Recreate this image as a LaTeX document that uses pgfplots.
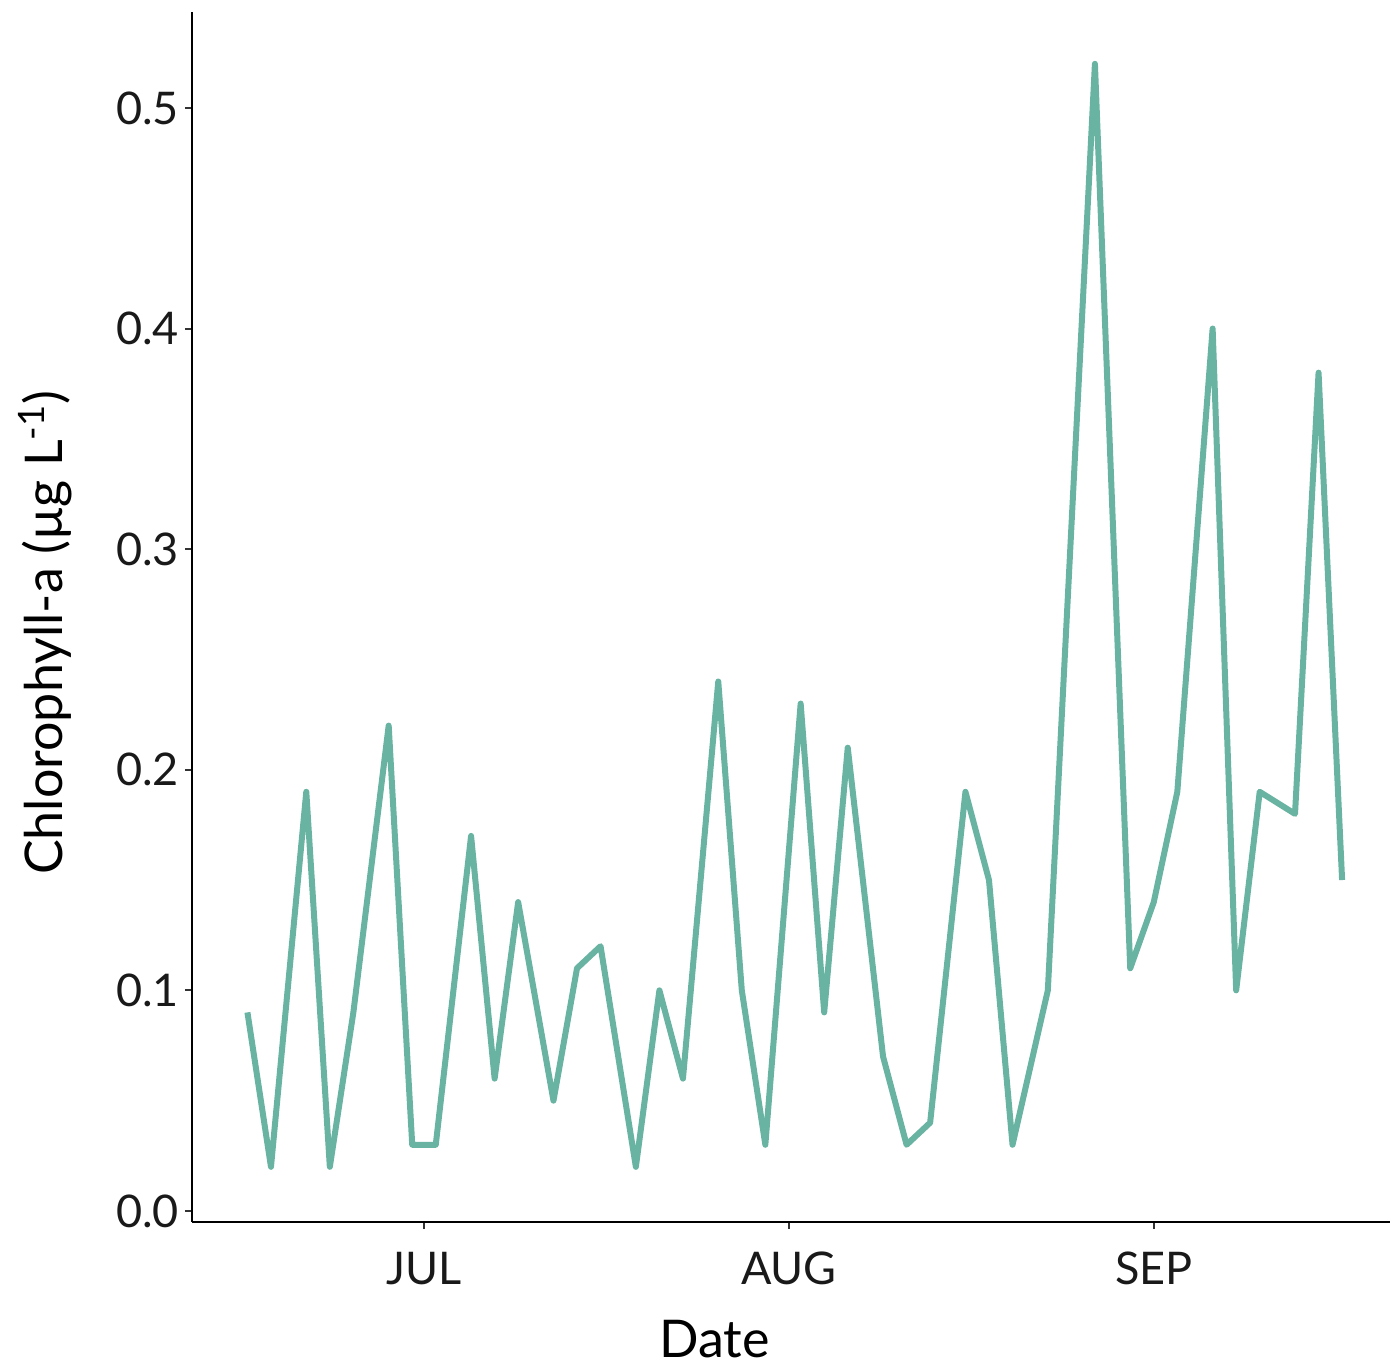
\documentclass[border=0pt]{standalone}
\usepackage{pgfplots}
\pgfplotsset{compat=1.18}
\usepackage{fontspec}
\setmainfont{Lato}
\definecolor{chl}{HTML}{69B3A2}
\pgfplotstableread{
day val
-15 0.09
-13 0.02
-10 0.19
-8 0.02
-6 0.09
-3 0.22
-1 0.03
1 0.03
4 0.17
6 0.06
8 0.14
11 0.05
13 0.11
15 0.12
18 0.02
20 0.10
22 0.06
25 0.24
27 0.10
29 0.03
32 0.23
34 0.09
36 0.21
39 0.07
41 0.03
43 0.04
46 0.19
48 0.15
50 0.03
53 0.10
57 0.52
60 0.11
62 0.14
64 0.19
67 0.40
69 0.10
71 0.19
74 0.18
76 0.38
78 0.15
}\chldata
\begin{document}
\begin{tikzpicture}
\begin{axis}[
  name=ax,
  scale only axis, width=599pt, height=605pt,
  xmin=-19.71, xmax=82.07, ymin=-0.005, ymax=0.5435,
  axis x line*=bottom, axis y line*=left,
  axis line style={black, line width=1pt},
  xtick={0,31,62}, xticklabels={JUL,AUG,SEP},
  ytick={0,0.1,0.2,0.3,0.4,0.5},
  yticklabels={0.0,0.1,0.2,0.3,0.4,0.5},
  tick align=outside, major tick length=3.5pt,
  tick style={black!80, line width=1pt},
  ticklabel style={font=\fontsize{22.5}{26}\selectfont, text=black!90},
  xticklabel style={yshift=-8pt},
  yticklabel style={xshift=0.5pt},
  xlabel={Date}, ylabel={Chlorophyll-a (µg L\textsuperscript{-1})},
  label style={font=\fontsize{26}{30}\selectfont, text=black},
  xlabel style={at={(axis description cs:0.436,-0.1116)}, anchor=base},
  ylabel style={at={(axis description cs:-0.1227,0.487)}, anchor=center, rotate=0},
  clip=false,
]
\addplot[chl, line width=3pt, line join=round, no markers] table[x=day,y=val]{\chldata};
\end{axis}
\pgfresetboundingbox
\path ([shift={(-96pt,-73.5pt)}]ax.south west) rectangle ([shift={(0pt,6pt)}]ax.north east);
\end{tikzpicture}
\end{document}
